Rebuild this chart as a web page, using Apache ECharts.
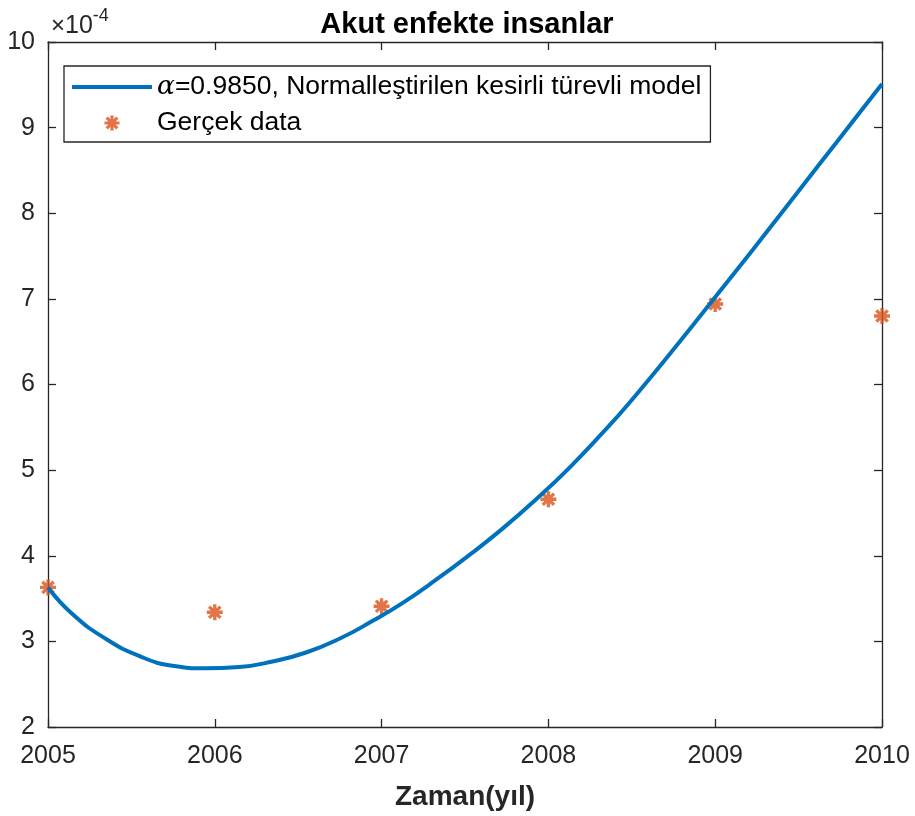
<!DOCTYPE html>
<html>
<head>
<meta charset="utf-8">
<script src="https://cdn.jsdelivr.net/npm/echarts@6/dist/echarts.min.js"></script>
<style>
html,body{margin:0;padding:0;background:#fff;}
#c{width:915px;height:816px;}
</style>
</head>
<body>
<div id="c"></div>
<script>
// ---- data (values in units of 1e-4) ----
const curveYears = [2005.0, 2005.146, 2005.346, 2005.546, 2005.746, 2005.947, 2006.146, 2006.346, 2006.547, 2006.747, 2006.947, 2007.127, 2007.327, 2007.527, 2007.727, 2007.927, 2008.127, 2008.327, 2008.487, 2008.787, 2009.028, 2009.228, 2009.428, 2009.628, 2009.828, 2010.0];
const curveValues = [3.63, 3.32, 3.03, 2.83, 2.715, 2.685, 2.70, 2.765, 2.87, 3.03, 3.24, 3.45, 3.72, 4.01, 4.32, 4.66, 5.03, 5.44, 5.79, 6.50, 7.09, 7.58, 8.08, 8.58, 9.08, 9.51];
const dataYears = [2005, 2006, 2007, 2008, 2009, 2010];
const dataValues = [3.63, 3.34, 3.41, 4.66, 6.94, 6.80];
const xTicks = [2005, 2006, 2007, 2008, 2009, 2010];
const yTicks = [2, 3, 4, 5, 6, 7, 8, 9, 10];

const titleText = 'Akut enfekte insanlar';
const xName = 'Zaman(yıl)';
const modelName = 'α=0.9850, Normalleştirilen kesirli türevli model';
const dataName = 'Gerçek data';

// ---- build ----
const curve = curveYears.map((x, i) => [x, curveValues[i]]);
const points = dataYears.map((x, i) => [x, dataValues[i]]);

// 8-armed asterisk (MATLAB '*' marker)
const w = 2.1, c = 10, d = 7.07, o = w / Math.SQRT2;
const starPath = 'path://' +
  `M0 ${c - w}L20 ${c - w}L20 ${c + w}L0 ${c + w}Z` +
  `M${c - w} 0L${c + w} 0L${c + w} 20L${c - w} 20Z` +
  `M${c - d + o} ${c - d - o}L${c + d + o} ${c + d - o}L${c + d - o} ${c + d + o}L${c - d - o} ${c - d + o}Z` +
  `M${c + d + o} ${c - d + o}L${c - d + o} ${c + d + o}L${c - d - o} ${c + d - o}L${c + d - o} ${c - d - o}Z`;

const FONT = '"Liberation Sans", Arial, Helvetica, sans-serif';
const AX = '#262626';

const chart = echarts.init(document.getElementById('c'), null, {renderer: 'canvas'});
const xBase = {
  type: 'value', min: xTicks[0], max: xTicks[xTicks.length - 1], interval: 1,
  axisLine: {show: true, lineStyle: {color: AX, width: 1.3}},
  axisTick: {show: true, inside: true, length: 8, lineStyle: {color: AX, width: 1.3}},
  splitLine: {show: false}
};
const yBase = {
  type: 'value', min: yTicks[0], max: yTicks[yTicks.length - 1], interval: 1,
  axisLine: {show: true, lineStyle: {color: AX, width: 1.3}},
  axisTick: {show: true, inside: true, length: 8, lineStyle: {color: AX, width: 1.3}},
  splitLine: {show: false}
};

chart.setOption({
  backgroundColor: '#fff',
  animation: false,
  title: {
    text: titleText, left: 462, top: 5, textAlign: 'center',
    textStyle: {fontFamily: FONT, fontSize: 29, fontWeight: 'bold', color: '#000'}
  },
  grid: {left: 48, right: 33, top: 42, bottom: 89, containLabel: false},
  xAxis: [
    Object.assign({}, xBase, {
      position: 'bottom',
      name: xName, nameLocation: 'middle', nameGap: 56,
      nameTextStyle: {fontFamily: FONT, fontSize: 28, fontWeight: 'bold', color: AX},
      axisLabel: {show: true, margin: 17, fontFamily: FONT, fontSize: 25, color: AX,
        formatter: v => String(v)}
    }),
    Object.assign({}, xBase, {position: 'top', axisLabel: {show: false}})
  ],
  yAxis: [
    Object.assign({}, yBase, {
      position: 'left',
      axisLabel: {show: true, margin: 13, fontFamily: FONT, fontSize: 25, color: AX,
        formatter: v => String(v)}
    }),
    Object.assign({}, yBase, {position: 'right', axisLabel: {show: false}})
  ],
  legend: {
    orient: 'vertical', left: 64, top: 66,
    padding: [7, 9, 5, 8],
    itemWidth: 80, itemHeight: 15, itemGap: 8,
    backgroundColor: '#fff',
    borderColor: AX, borderWidth: 1.3, borderRadius: 0,
    data: [
      {name: modelName, icon: 'path://M0 0H80V4H0Z'},
      {name: dataName}
    ],
    formatter: function (name) {
      if (name === modelName) return '{a|α}' + name.slice(1);
      return name;
    },
    textStyle: {
      fontFamily: FONT, fontSize: 26.5, color: '#000', lineHeight: 28,
      rich: {
        a: {fontFamily: '"DejaVu Serif", serif', fontStyle: 'italic', fontSize: 26.5, color: '#000'}
      }
    }
  },
  graphic: [
    {
      type: 'text', left: 51, top: 7,
      style: {
        text: '{m|×}{n|10}{s|-4}',
        rich: {
          m: {fontFamily: FONT, fontSize: 24, fill: AX, padding: [7, 0, 0, 0]},
          n: {fontFamily: FONT, fontSize: 25, fill: AX, padding: [7, 0, 0, 0]},
          s: {fontFamily: FONT, fontSize: 18, fill: AX, verticalAlign: 'top', padding: [0, 0, 12, 0]}
        }
      }
    }
  ],
  series: [
    {
      name: modelName, type: 'line', xAxisIndex: 0, yAxisIndex: 0,
      data: curve, smooth: 0.5, symbol: 'none', clip: false,
      lineStyle: {color: '#0072BD', width: 4},
      itemStyle: {color: '#0072BD'}
    },
    {
      name: dataName, type: 'scatter', xAxisIndex: 0, yAxisIndex: 0,
      data: points, symbol: starPath, symbolSize: 16, symbolKeepAspect: true, clip: false,
      itemStyle: {color: '#D95319'}
    }
  ]
});
</script>
</body>
</html>
